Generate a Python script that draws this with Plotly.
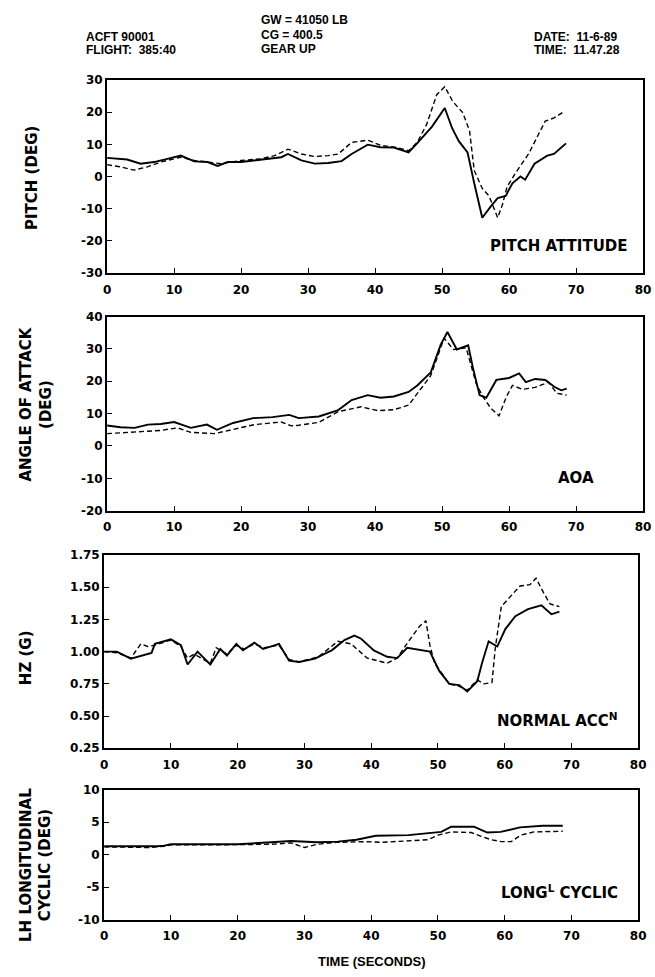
import plotly.graph_objects as go

# ---------------- data ----------------
pitch_solid_t = [0, 2, 3, 5, 7, 9, 11, 13, 15, 16.5, 18, 20, 22, 24, 26, 27, 29, 31, 33, 35, 36.5, 38.9, 40.8, 42.8, 45, 46.3, 48.5, 50.4, 51.5, 52.5, 53.8, 54.8, 56, 57.3, 58.3, 59.5, 60.5, 61.7, 62.4, 63.8, 65.7, 66.7, 68.5]
pitch_solid_v = [5.8, 5.5, 5.3, 4.0, 4.5, 5.5, 6.5, 4.7, 4.5, 3.3, 4.5, 4.5, 5.0, 5.5, 6.0, 7.0, 5.0, 4.0, 4.2, 4.8, 7.0, 9.9, 9.1, 9.0, 7.5, 10.4, 15.5, 21.3, 15.0, 11.0, 7.5, -2.1, -12.8, -9.2, -6.7, -6.0, -2.1, 0.0, -1.0, 4.0, 6.5, 7.0, 10.3]
pitch_dash_t = [0, 2, 4, 6, 8, 10, 11, 13, 15, 17, 20, 23, 25, 27, 29, 31, 33, 34.5, 36.5, 38.9, 40.8, 43.2, 45, 46.3, 47.7, 49.2, 50.4, 51.6, 53.1, 54.1, 54.8, 56, 57, 58.3, 59, 59.7, 60.9, 62.9, 65.4, 66.7, 68.3]
pitch_dash_v = [3.7, 3.0, 2.0, 3.0, 4.5, 5.5, 6.0, 5.0, 4.5, 4.0, 5.0, 5.5, 6.5, 8.5, 7.0, 6.2, 6.5, 7.0, 10.6, 11.3, 9.7, 9.0, 8.0, 10.6, 16.2, 25.4, 27.9, 23.3, 19.8, 14.2, 1.9, -3.7, -6.0, -12.8, -8.8, -3.2, 0.9, 7.0, 17.2, 18.2, 20.3]

aoa_solid_t = [0, 2, 4.1, 6.1, 8, 10, 12.5, 14.9, 16.4, 18.8, 21.8, 24.7, 27.2, 28.6, 31.6, 34.5, 36.5, 38.9, 40.8, 42.8, 45, 46.3, 48.3, 49.8, 50.8, 52.2, 53.9, 54.6, 55.6, 56.6, 58.1, 60, 61.5, 62.5, 63.9, 65.4, 66.8, 67.8, 68.6]
aoa_solid_v = [6.3, 5.8, 5.6, 6.6, 6.8, 7.4, 5.6, 6.6, 5.0, 7.1, 8.6, 8.9, 9.6, 8.6, 9.1, 11.1, 14.2, 15.7, 14.9, 15.3, 16.7, 18.7, 22.7, 31.3, 35.2, 29.8, 31.1, 24.2, 15.7, 14.9, 20.4, 21.0, 22.4, 19.7, 20.7, 20.4, 18.2, 17.2, 17.7]
aoa_dash_t = [0, 4, 8, 10.5, 12.5, 16, 18.8, 22, 26, 27.5, 28.6, 31.6, 34.5, 37.9, 40.4, 42.8, 45, 48.3, 50.3, 51.7, 53.6, 55.1, 56.1, 57.3, 58.5, 59.6, 60.5, 62, 63.9, 65.9, 67.1, 68.6]
aoa_dash_v = [3.8, 4.2, 4.8, 5.6, 4.2, 3.8, 5.2, 6.6, 7.4, 6.2, 6.4, 7.3, 10.6, 12.1, 10.9, 11.2, 12.6, 21.7, 33.3, 29.8, 30.3, 19.2, 15.2, 11.6, 9.3, 15.2, 18.7, 17.5, 18.1, 19.7, 16.3, 15.7]

nz_solid_t = [0, 1.9, 4, 5.6, 7.1, 7.6, 10, 11.5, 12.5, 14, 15.9, 17.4, 18.4, 19.8, 20.8, 22.5, 23.8, 26.2, 27.7, 29.2, 31.6, 33.3, 34.1, 36, 37.5, 38.5, 40.4, 42.4, 43.9, 45.4, 47.3, 48.8, 50.2, 51.7, 53.2, 54.4, 55.9, 56.6, 57.6, 58.9, 60.1, 61.6, 63.5, 65.5, 67, 68.2]
nz_solid_v = [1.00, 1.00, 0.945, 0.97, 0.99, 1.06, 1.095, 1.05, 0.90, 1.00, 0.90, 1.02, 0.97, 1.06, 1.01, 1.07, 1.02, 1.06, 0.93, 0.92, 0.945, 0.99, 1.01, 1.09, 1.125, 1.10, 1.01, 0.96, 0.95, 1.03, 1.01, 1.00, 0.85, 0.75, 0.74, 0.69, 0.77, 0.91, 1.08, 1.04, 1.175, 1.275, 1.33, 1.36, 1.29, 1.31]
nz_dash_t = [0, 2, 4, 5.5, 6.5, 7.6, 10, 11.5, 12.5, 13.5, 15.9, 16.8, 18.4, 19.8, 21, 22.5, 24, 26.2, 27.7, 29.2, 32.1, 35, 37, 39.4, 42.4, 43.9, 45.6, 47.3, 48.2, 48.8, 49.5, 50.5, 51.7, 53.2, 54.4, 55.9, 56.9, 58.1, 58.6, 59.5, 60.8, 62.3, 63.8, 64.7, 65.8, 66.8, 68.2]
nz_dash_v = [1.00, 0.99, 0.95, 1.06, 1.04, 1.05, 1.09, 1.04, 0.95, 0.98, 0.91, 1.03, 0.98, 1.05, 1.02, 1.06, 1.03, 1.05, 0.94, 0.92, 0.96, 1.08, 1.06, 0.95, 0.91, 0.95, 1.08, 1.20, 1.24, 1.05, 0.91, 0.84, 0.75, 0.73, 0.70, 0.78, 0.75, 0.76, 1.03, 1.35, 1.425, 1.51, 1.52, 1.57, 1.46, 1.37, 1.35]

cyc_solid_t = [0, 4, 6, 8, 9, 10, 15, 20, 25, 28, 31.9, 35, 37.8, 40.7, 45.6, 49, 50.5, 52, 55.4, 57.4, 59.4, 62.3, 65.7, 68.7]
cyc_solid_v = [1.3, 1.3, 1.2, 1.3, 1.4, 1.6, 1.6, 1.6, 1.9, 2.1, 1.9, 2.0, 2.3, 2.9, 3.0, 3.3, 3.5, 4.3, 4.3, 3.4, 3.5, 4.2, 4.45, 4.45]
cyc_dash_t = [0, 5, 7, 9, 10, 15, 20, 25, 28, 30, 31.9, 34.8, 39.2, 41.7, 48.5, 50, 52, 53.5, 55, 56.5, 58, 59.5, 61, 62.4, 64.4, 68.7]
cyc_dash_v = [1.2, 1.2, 1.1, 1.3, 1.5, 1.5, 1.5, 1.6, 1.8, 1.1, 1.6, 1.9, 2.0, 1.9, 2.3, 3.0, 3.5, 3.4, 3.4, 2.8, 2.3, 2.0, 2.0, 3.0, 3.5, 3.6]

# tick values / labels
x_ticks = [0, 10, 20, 30, 40, 50, 60, 70, 80]
x_labels = ["0", "10", "20", "30", "40", "50", "60", "70", "80"]
pitch_ticks = [-30, -20, -10, 0, 10, 20, 30]
pitch_labels = ["-30", "-20", "-10", "0", "10", "20", "30"]
aoa_ticks = [-20, -10, 0, 10, 20, 30, 40]
aoa_labels = ["-20", "-10", "0", "10", "20", "30", "40"]
nz_ticks = [0.25, 0.5, 0.75, 1.0, 1.25, 1.5, 1.75]
nz_labels = ["0.25", "0.50", "0.75", "1.00", "1.25", "1.50", "1.75"]
cyc_ticks = [-10, -5, 0, 5, 10]
cyc_labels = ["-10", "-5", "0", "5", "10"]

panel_labels = ["PITCH ATTITUDE", "AOA", "NORMAL ACC<sup>N</sup>", "LONG<sup>L</sup> CYCLIC"]
y_titles = ["PITCH (DEG)", "ANGLE OF ATTACK<br>(DEG)", "HZ (G)", "LH LONGITUDINAL<br>CYCLIC (DEG)"]
y_ranges = [[-30, 30], [-20, 40], [0.25, 1.75], [-10, 10]]
y_tickvals = [pitch_ticks, aoa_ticks, nz_ticks, cyc_ticks]
y_ticktext = [pitch_labels, aoa_labels, nz_labels, cyc_labels]

# ---------------- layout helpers ----------------
W, H = 655, 977
HEAD_FONT = "Liberation Sans"
BOLD_FONT = "DejaVu Sans"

def px_x(p):
    return p / W

def px_y(p):
    return 1 - p / H

# pixel boxes of the four panels: (left, right, top, bottom)
boxes = [(105, 651, 74, 270), (105, 651, 314, 511), (102, 646, 556, 752), (102, 646, 794, 926)]

series = [
    (pitch_solid_t, pitch_solid_v, pitch_dash_t, pitch_dash_v),
    (aoa_solid_t, aoa_solid_v, aoa_dash_t, aoa_dash_v),
    (nz_solid_t, nz_solid_v, nz_dash_t, nz_dash_v),
    (cyc_solid_t, cyc_solid_v, cyc_dash_t, cyc_dash_v),
]

fig = go.Figure()
layout = dict(
    width=W, height=H, margin=dict(l=0, r=0, t=0, b=0),
    paper_bgcolor="white", plot_bgcolor="white", showlegend=False,
    font=dict(family=BOLD_FONT, color="black", size=12),
)

for i, (st, sv, dt, dv) in enumerate(series):
    n = "" if i == 0 else str(i + 1)
    xa, ya = "x" + n, "y" + n
    fig.add_trace(go.Scatter(x=dt, y=dv, mode="lines", xaxis=xa, yaxis=ya,
                             line=dict(color="black", width=1.4, dash="5px,3px")))
    fig.add_trace(go.Scatter(x=st, y=sv, mode="lines", xaxis=xa, yaxis=ya,
                             line=dict(color="black", width=1.9)))
    l, r, t, b = boxes[i]
    layout["xaxis" + n] = dict(
        domain=[px_x(l), px_x(r)], anchor=ya, range=[0, 80],
        tickmode="array", tickvals=x_ticks, ticktext=x_labels,
        showline=True, mirror=True, linecolor="black", linewidth=2,
        ticks="inside", ticklen=5, tickwidth=1.3, tickcolor="black",
        showgrid=False, zeroline=False, ticklabelstandoff=4,
        tickfont=dict(family=BOLD_FONT, size=12, weight="bold"),
    )
    layout["yaxis" + n] = dict(
        domain=[px_y(b), px_y(t)], anchor=xa, range=y_ranges[i],
        tickmode="array", tickvals=y_tickvals[i], ticktext=y_ticktext[i],
        showline=True, mirror=True, linecolor="black", linewidth=2,
        ticks="inside", ticklen=5, tickwidth=1.3, tickcolor="black",
        showgrid=False, zeroline=False,
        tickfont=dict(family=BOLD_FONT, size=12, weight="bold"),
    )

fig.update_layout(**layout)

anns = []
def ann(text, x, y, size=12, xanchor="center", yanchor="middle", angle=0, family=BOLD_FONT):
    anns.append(dict(text=text, x=px_x(x), y=px_y(y), xref="paper", yref="paper",
                     showarrow=False, xanchor=xanchor, yanchor=yanchor, textangle=angle,
                     font=dict(family=family, size=size, color="black", weight="bold")))

# header
ann("GW = 41050 LB", 260, 13, 12, xanchor="left", family=HEAD_FONT)
ann("CG = 400.5", 260, 28, 12, xanchor="left", family=HEAD_FONT)
ann("GEAR UP", 260, 43, 12, xanchor="left", family=HEAD_FONT)
ann("ACFT 90001", 82, 30, 12, xanchor="left", family=HEAD_FONT)
ann("FLIGHT:  385:40", 82, 44, 12, xanchor="left", family=HEAD_FONT)
ann("DATE:  11-6-89", 538, 30, 12, xanchor="left", family=HEAD_FONT)
ann("TIME:  11.47.28", 538, 44, 12, xanchor="left", family=HEAD_FONT)

# panel labels
ann(panel_labels[0], 638, 242, 15, xanchor="right")
ann(panel_labels[1], 603, 478, 15, xanchor="right")
ann(panel_labels[2], 628, 723, 15, xanchor="right")
ann(panel_labels[3], 627, 898, 15, xanchor="right")

# y axis titles
ann(y_titles[0], 28, 173, 15, angle=-90)
ann(y_titles[1], 33, 403, 15, angle=-90)
ann(y_titles[2], 22, 660, 15, angle=-90)
ann(y_titles[3], 32, 870, 15, angle=-90)

# x title
ann("TIME (SECONDS)", 375, 968, 13, family=HEAD_FONT)

fig.update_layout(annotations=anns)
fig.write_html("out.html")
